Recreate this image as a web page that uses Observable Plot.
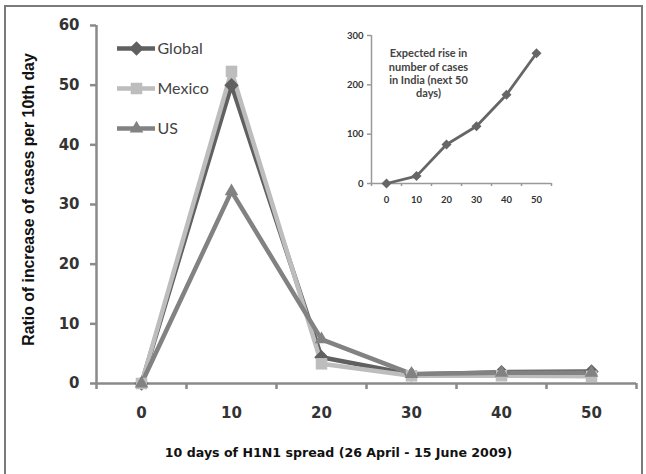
<!DOCTYPE html>
<html>
<head>
<meta charset="utf-8">
<script src="https://cdn.jsdelivr.net/npm/d3@7"></script>
<script src="https://cdn.jsdelivr.net/npm/@observablehq/plot@0.6"></script>
<style>
  html, body { margin: 0; padding: 0; background: #fff; }
  #wrap { position: relative; width: 646px; height: 474px; overflow: hidden; background: #fff; }
  #border { position: absolute; left: 4px; top: 5px; width: 639px; height: 480px; border: 2px solid #7a7a7a; box-sizing: border-box; pointer-events: none; }
  .abs { position: absolute; }
</style>
</head>
<body>
<div id="wrap">
  <div id="main" class="abs" style="left:0;top:0"></div>
  <div id="legend" class="abs" style="left:105px;top:28px"></div>
  <div id="inset" class="abs" style="left:330px;top:20px"></div>
  <div id="border"></div>
</div>
<script>
// ---- Data ----
const days = [0, 10, 20, 30, 40, 50];
const globalRatio = [0, 50, 4.4, 1.5, 1.9, 2.0];
const mexicoRatio = [0, 52.3, 3.3, 1.3, 1.3, 1.2];
const usRatio = [0, 32.2, 7.4, 1.6, 1.8, 1.8];
const seriesNames = ["Global", "Mexico", "US"];
const seriesColors = ["#606060", "#bdbdbd", "#828282"];
const seriesSymbols = ["diamond2", "square", "triangle2"];
const yTicks = [0, 10, 20, 30, 40, 50, 60];
const xBoundaries = [-5, 5, 15, 25, 35, 45, 55];

const indiaDays = [0, 10, 20, 30, 40, 50];
const indiaCases = [0, 15, 79, 116, 180, 264];
const indiaTicksY = [0, 100, 200, 300];
const insetTitle = "Expected rise in\nnumber of cases\nin India (next 50\ndays)";

const xLabel = "10 days of H1N1 spread (26 April - 15 June 2009)";
const yLabel = "Ratio of increase of cases per 10th day";

// ---- Build table ----
const allSeries = [globalRatio, mexicoRatio, usRatio];
const rows = [];
seriesNames.forEach((name, i) => {
  days.forEach((d, j) => rows.push({series: name, day: d, value: allSeries[i][j]}));
});
const india = indiaDays.map((d, i) => ({day: d, cases: indiaCases[i]}));

const axisColor = "#8a8a8a";
const tickFont = "DejaVu Sans, Verdana, sans-serif";

const colorScale = {domain: seriesNames, range: seriesColors};
const symbolScale = {domain: seriesNames, range: seriesSymbols};

const main = Plot.plot({
  width: 646,
  height: 474,
  marginLeft: 96,
  marginRight: 10,
  marginTop: 25,
  marginBottom: 91,
  style: {background: "transparent", overflow: "visible"},
  x: {type: "linear", domain: [-5, 55], axis: null},
  y: {type: "linear", domain: [0, 60], axis: null},
  color: colorScale,
  symbol: symbolScale,
  marks: [
    Plot.ruleX([-5], {stroke: axisColor, strokeWidth: 2.5}),
    Plot.axisY({ticks: yTicks, tickSize: 6, tickPadding: 11, stroke: axisColor, strokeWidth: 2.5,
      fontSize: 15, fontWeight: "bold", fill: "#333", fontFamily: tickFont, label: null}),
    Plot.axisX({ticks: xBoundaries, tickFormat: () => "", tickSize: 6, stroke: axisColor, strokeWidth: 2.5, label: null}),
    Plot.axisX({ticks: days, tickSize: 0, tickPadding: 24, fontSize: 15, fontWeight: "bold", fill: "#333", fontFamily: tickFont, label: null}),
    Plot.ruleY([0], {stroke: axisColor, strokeWidth: 2.5}),
    Plot.line(rows, {x: "day", y: "value", z: "series", stroke: "series", strokeWidth: 4.5}),
    Plot.dot(rows, {x: "day", y: "value", symbol: "series", fill: "series", r: 6.5}),
    Plot.text([xLabel], {frameAnchor: "bottom", textAnchor: "middle", dy: 73, dx: -28, text: d => d, fontSize: 12.6, fontWeight: "bold",
      fontFamily: tickFont, fill: "#111"}),
    Plot.text([yLabel], {frameAnchor: "left", textAnchor: "middle", dx: -68, dy: -5, text: d => d, rotate: -90, fontSize: 15.8, fontWeight: "bold",
      fontFamily: "Liberation Sans, Arial, sans-serif", fill: "#111"})
  ]
});
document.getElementById("main").appendChild(main);

// ---- Legend ----
const legend = Plot.plot({
  width: 130,
  height: 120,
  marginLeft: 12,
  marginRight: 80,
  marginTop: 20,
  marginBottom: 20,
  style: {background: "transparent", overflow: "visible"},
  x: {type: "linear", domain: [0, 1], axis: null},
  y: {type: "point", domain: seriesNames, padding: 0, axis: null},
  color: colorScale,
  symbol: symbolScale,
  marks: [
    Plot.ruleY(seriesNames, {y: d => d, x1: 0, x2: 1, stroke: d => d, strokeWidth: 4.5}),
    Plot.dot(seriesNames, {x: 0.5, y: d => d, symbol: d => d, fill: d => d, r: 6.5}),
    Plot.text(seriesNames, {x: 1, y: d => d, text: d => d, textAnchor: "start", dx: 2, fontSize: 16,
      fontFamily: "Lato, Open Sans, sans-serif", fill: "#444"})
  ]
});
document.getElementById("legend").appendChild(legend);

// ---- Inset ----
const insetFont = "Lato, Open Sans, sans-serif";
const inset = Plot.plot({
  width: 235,
  height: 195,
  marginLeft: 41,
  marginRight: 14,
  marginTop: 15,
  marginBottom: 32,
  style: {background: "transparent", overflow: "visible"},
  x: {type: "linear", domain: [-5, 55], axis: null},
  y: {type: "linear", domain: [0, 300], axis: null},
  marks: [
    Plot.ruleX([-5], {stroke: "#999", strokeWidth: 1.5}),
    Plot.axisY({ticks: indiaTicksY, tickSize: 4, tickPadding: 4, stroke: "#999", strokeWidth: 1.5,
      fontSize: 9.5, fontWeight: "bold", fill: "#333", fontFamily: insetFont, label: null}),
    Plot.axisX({ticks: xBoundaries, tickFormat: () => "", tickSize: 3, stroke: "#999", strokeWidth: 1.5, label: null}),
    Plot.axisX({ticks: indiaDays, tickSize: 0, tickPadding: 13, fontSize: 9.5, fontWeight: "bold", fill: "#333", fontFamily: insetFont, label: null}),
    Plot.ruleY([0], {stroke: "#999", strokeWidth: 1.5}),
    Plot.line(india, {x: "day", y: "cases", stroke: "#666", strokeWidth: 2.8}),
    Plot.dot(india, {x: "day", y: "cases", symbol: "diamond2", fill: "#666", r: 4.5}),
    Plot.text([insetTitle], {x: 14, y: 224, text: d => d, fontSize: 11, fontWeight: "bold", lineHeight: 1.22,
      fontFamily: insetFont, fill: "#444"})
  ]
});
document.getElementById("inset").appendChild(inset);
</script>
</body>
</html>
